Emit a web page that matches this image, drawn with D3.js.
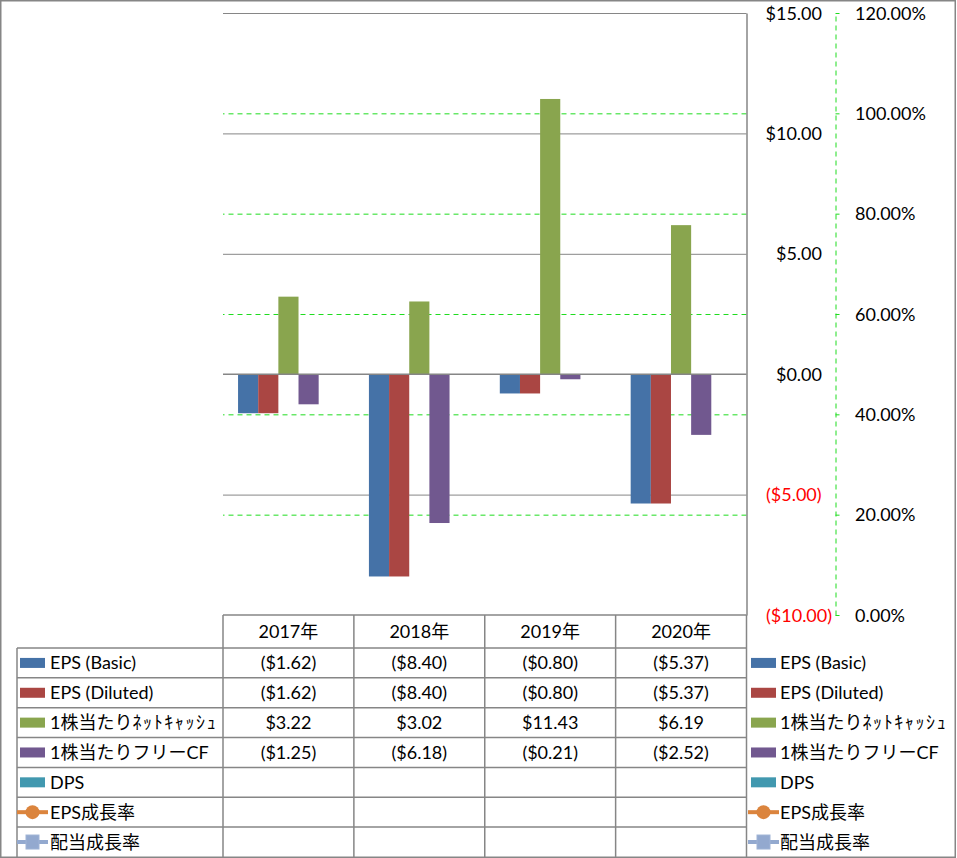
<!DOCTYPE html>
<html>
<head>
<meta charset="utf-8">
<script src="https://cdn.jsdelivr.net/npm/d3@7/dist/d3.min.js"></script>
<style>
  html, body { margin: 0; padding: 0; background: #fff; }
  svg { display: block; }
  text { font-family: Lato, "Noto Sans CJK JP", sans-serif; }
</style>
</head>
<body>
<svg id="chart" width="957" height="858"></svg>
<script>
// ---------------- data ----------------
const years = ["2017年", "2018年", "2019年", "2020年"];
const seriesNames = ["EPS (Basic)", "EPS (Diluted)", "1株当たりﾈｯﾄｷｬｯｼｭ", "1株当たりフリーCF", "DPS", "EPS成長率", "配当成長率"];
const seriesColors = ["#4572A7", "#AA4643", "#89A54E", "#71588F", "#4198AF", "#DB843D", "#93A9CF"];
const seriesKinds = ["bar", "bar", "bar", "bar", "bar", "line-circle", "line-square"];
const epsBasic = [-1.62, -8.40, -0.80, -5.37];
const epsDiluted = [-1.62, -8.40, -0.80, -5.37];
const netCashPerShare = [3.22, 3.02, 11.43, 6.19];
const fcfPerShare = [-1.25, -6.18, -0.21, -2.52];
const dps = [null, null, null, null];
const epsGrowth = [null, null, null, null];
const divGrowth = [null, null, null, null];
const primaryTicks = [-10, -5, 0, 5, 10, 15];
const secondaryTicks = [0, 0.2, 0.4, 0.6, 0.8, 1.0, 1.2];

const seriesValues = [epsBasic, epsDiluted, netCashPerShare, fcfPerShare, dps, epsGrowth, divGrowth];
const barSeries = [0, 1, 2, 3, 4];

// ---------------- layout ----------------
const svg = d3.select("#chart");
const plotL = 223, plotR = 746.5, plotT = 13, plotB = 615;
const gridGray = "#868686";
const green = "#1FDC1F";
const fs = 18;

const y = d3.scaleLinear().domain([-10, 15]).range([plotB, plotT]);
const y2 = d3.scaleLinear().domain([0, 1.2]).range([plotB, plotT]);
const x0 = d3.scaleBand().domain(years).range([plotL, plotR]).paddingInner(0.23).paddingOuter(0.115);
const x1 = d3.scaleBand().domain(barSeries).range([0, x0.bandwidth()]).padding(0);

const fmtMoney = v => v == null ? "" : (v < 0 ? "($" + Math.abs(v).toFixed(2) + ")" : "$" + v.toFixed(2));
const fmtPct = v => (v * 100).toFixed(2) + "%";

// outer border
svg.append("rect").attr("x", 0.75).attr("y", 0.75).attr("width", 954.5).attr("height", 856.5)
  .attr("fill", "none").attr("stroke", gridGray).attr("stroke-width", 1.5);

// secondary gridlines (dashed green)
const g2grid = svg.append("g").attr("transform", `translate(${plotR},0)`)
  .call(d3.axisLeft(y2).tickValues(secondaryTicks.filter(t => t > 0 && t < 1.2)).tickSize(plotR - plotL).tickFormat(""));
g2grid.select(".domain").remove();
g2grid.selectAll("line").attr("stroke", green).attr("stroke-dasharray", "5,4").attr("stroke-width", 1);

// primary gridlines (solid gray)
const gGrid = svg.append("g").attr("transform", `translate(${plotR},0)`)
  .call(d3.axisLeft(y).tickValues(primaryTicks.filter(t => t !== 0 && t !== -10)).tickSize(plotR - plotL).tickFormat(""));
gGrid.select(".domain").remove();
gGrid.selectAll("line").attr("stroke", gridGray).attr("stroke-width", 1);

// bars
const groups = svg.append("g").selectAll("g").data(years).join("g")
  .attr("transform", d => `translate(${x0(d)},0)`);
groups.selectAll("rect")
  .data((d, i) => barSeries.map(s => ({ s, v: seriesValues[s][i] })).filter(o => o.v != null))
  .join("rect")
  .attr("x", o => x1(o.s))
  .attr("width", x1.bandwidth())
  .attr("y", o => y(Math.max(0, o.v)))
  .attr("height", o => Math.abs(y(o.v) - y(0)))
  .attr("fill", o => seriesColors[o.s]);

// zero axis line
svg.append("line").attr("x1", plotL).attr("x2", plotR).attr("y1", y(0)).attr("y2", y(0))
  .attr("stroke", gridGray).attr("stroke-width", 1.5);

// primary axis (on right)
const gAx = svg.append("g").attr("transform", `translate(${plotR},0)`)
  .call(d3.axisRight(y).tickValues(primaryTicks).tickSize(0).tickFormat(fmtMoney));
gAx.attr("font-family", null).attr("font-size", null);
gAx.select(".domain").attr("stroke", gridGray).attr("stroke-width", 1.5);
gAx.selectAll("text")
  .style("font-size", fs + "px")
  .style("fill", d => d < 0 ? "#FF0000" : "#000000")
  .attr("text-anchor", d => d < 0 ? "start" : "end")
  .attr("x", d => d < 0 ? 766 - plotR : 822 - plotR)
  .attr("dy", "0.34em");

// secondary axis
const sx = 835.5;
const gAx2 = svg.append("g").attr("transform", `translate(${sx},0)`)
  .call(d3.axisRight(y2).tickValues(secondaryTicks).tickSize(4).tickSizeOuter(0).tickFormat(fmtPct));
gAx2.attr("font-family", null).attr("font-size", null);
gAx2.select(".domain").attr("stroke", green).attr("stroke-dasharray", "5,4");
gAx2.selectAll("line").attr("stroke", green);
gAx2.selectAll("text")
  .style("font-size", fs + "px")
  .style("fill", "#000000")
  .attr("text-anchor", "start")
  .attr("x", 855 - sx)
  .attr("dy", "0.34em");

// ---------------- data table ----------------
const tblL = 17, tblT = 615, headB = 648, rowH = 29.85;
const rowTop = i => headB + i * rowH;
const tblB = rowTop(seriesNames.length);
const table = svg.append("g");
const colX = yr => x0(yr) + x0.bandwidth() / 2;
const colLeft = yr => x0(yr) - x0.step() * 0.115;

// horizontal lines
table.append("line").attr("x1", plotL).attr("x2", plotR).attr("y1", tblT).attr("y2", tblT);
d3.range(seriesNames.length).forEach(i => {
  table.append("line").attr("x1", tblL).attr("x2", plotR).attr("y1", rowTop(i)).attr("y2", rowTop(i));
});
// vertical lines
table.append("line").attr("x1", tblL).attr("x2", tblL).attr("y1", headB).attr("y2", tblB);
years.forEach(yr => {
  const xl = colLeft(yr);
  table.append("line").attr("x1", xl).attr("x2", xl).attr("y1", tblT).attr("y2", tblB);
});
table.append("line").attr("x1", plotR).attr("x2", plotR).attr("y1", tblT).attr("y2", tblB);
table.selectAll("line").attr("stroke", gridGray).attr("stroke-width", 1.5);

// header
table.selectAll("text.hdr").data(years).join("text").attr("class", "hdr")
  .attr("x", d => colX(d)).attr("y", (tblT + headB) / 2).attr("dy", "0.36em")
  .attr("text-anchor", "middle").style("font-size", fs + "px").style("fill", "#000").text(d => d);

// cells
seriesNames.forEach((name, i) => {
  const cy = rowTop(i) + rowH / 2;
  years.forEach((yr, j) => {
    const v = seriesValues[i][j];
    if (v == null) return;
    table.append("text").attr("x", colX(yr)).attr("y", cy).attr("dy", "0.36em")
      .attr("text-anchor", "middle").style("font-size", fs + "px").style("fill", "#000").text(fmtMoney(v));
  });
});

// legend keys (left in table and right of table)
function drawKey(g, kx, cy, i) {
  const c = seriesColors[i];
  if (seriesKinds[i] === "bar") {
    g.append("rect").attr("x", kx).attr("y", cy - 5).attr("width", 25).attr("height", 10).attr("fill", c);
  } else {
    g.append("line").attr("x1", kx - 3).attr("x2", kx + 28).attr("y1", cy).attr("y2", cy)
      .attr("stroke", c).attr("stroke-width", 4);
    if (seriesKinds[i] === "line-circle") {
      g.append("circle").attr("cx", kx + 12.5).attr("cy", cy).attr("r", 7).attr("fill", c);
    } else {
      g.append("rect").attr("x", kx + 6).attr("y", cy - 7).attr("width", 13).attr("height", 14)
        .attr("fill", c).attr("stroke", "#9FB3D6").attr("stroke-width", 1);
    }
  }
}
// label text: widen runs of half-width katakana a little (they are wider in the original font)
function addLabel(g, x, cy, name) {
  const t = g.append("text").attr("x", x).attr("y", cy).attr("dy", "0.36em")
    .style("font-size", fs + "px").style("fill", "#000");
  const parts = name.split(/([\uFF61-\uFF9F]+)/).filter(p => p.length);
  parts.forEach(p => {
    const ts = t.append("tspan").text(p);
    if (/[\uFF61-\uFF9F]/.test(p)) ts.style("letter-spacing", "1.6px");
  });
}
seriesNames.forEach((name, i) => {
  const cy = rowTop(i) + rowH / 2;
  drawKey(table, 20, cy, i);
  addLabel(table, 50, cy, name);
  drawKey(svg, 751, cy, i);
  addLabel(svg, 780, cy, name);
});
</script>
</body>
</html>
